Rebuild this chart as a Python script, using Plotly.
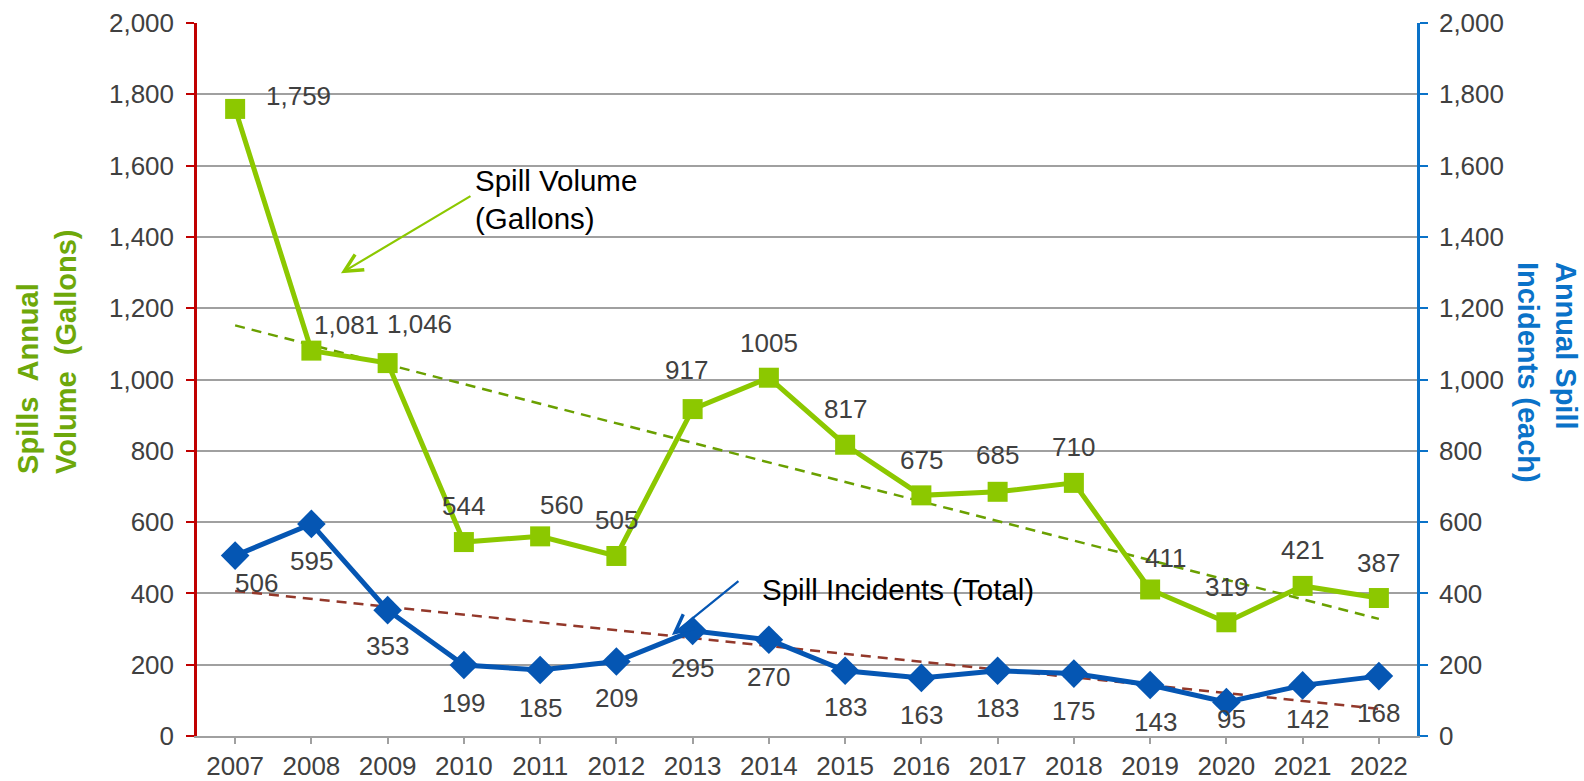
import numpy as np
import plotly.graph_objects as go

years = ["2007", "2008", "2009", "2010", "2011", "2012", "2013", "2014",
         "2015", "2016", "2017", "2018", "2019", "2020", "2021", "2022"]
spill_volume = [1759, 1081, 1046, 544, 560, 505, 917, 1005,
                817, 675, 685, 710, 411, 319, 421, 387]
spill_incidents = [506, 595, 353, 199, 185, 209, 295, 270,
                   183, 163, 183, 175, 143, 95, 142, 168]
y_ticks = [0, 200, 400, 600, 800, 1000, 1200, 1400, 1600, 1800, 2000]

# label texts (Excel showed 2014 without thousands separator)
volume_labels = [f"{v:,}" for v in spill_volume]
volume_labels[7] = str(spill_volume[7])
incident_labels = [str(v) for v in spill_incidents]

# label pixel offsets (style only)
vol_off = [(63, 13), (35, 26), (32, 39), (0, 36), (21, 31), (0, 36), (-6, 39), (0, 35),
           (0, 36), (0, 35), (0, 37), (0, 36), (15, 31), (0, 35), (0, 36), (0, 35)]
inc_off = [(21, -27), (0, -37), (0, -36), (0, -38), (0, -38), (0, -37), (0, -37), (0, -37),
           (0, -36), (0, -37), (0, -37), (0, -37), (5, -37), (5, -17), (5, -34), (0, -37)]

FONT = "Liberation Sans, Arial, sans-serif"
GREEN = "#8CC800"
GREEN_DARK = "#6EA80A"
BLUE = "#0556B3"
AXIS_BLUE = "#0A72C8"
RED = "#C00000"
TXT = "#404040"
FS = 26

idx = np.arange(len(years))
vfit = np.polyval(np.polyfit(idx, spill_volume, 1), idx)
ifit = np.polyval(np.polyfit(idx, spill_incidents, 1), idx)

fig = go.Figure()

fig.add_trace(go.Scatter(x=years, y=vfit, mode="lines", yaxis="y",
                         line=dict(color="#6AA000", width=2.5, dash="10px,7px"),
                         hoverinfo="skip", showlegend=False))
fig.add_trace(go.Scatter(x=years, y=ifit, mode="lines", yaxis="y2",
                         line=dict(color="#93382A", width=2.5, dash="10px,7px"),
                         hoverinfo="skip", showlegend=False))
fig.add_trace(go.Scatter(x=years, y=spill_volume, mode="lines+markers", yaxis="y",
                         line=dict(color=GREEN, width=5),
                         marker=dict(symbol="square", size=20, color=GREEN),
                         showlegend=False))
fig.add_trace(go.Scatter(x=years, y=spill_incidents, mode="lines+markers", yaxis="y2",
                         line=dict(color=BLUE, width=5),
                         marker=dict(symbol="diamond", size=22, color=BLUE),
                         showlegend=False))

annotations = []
for i, (y, t) in enumerate(zip(spill_volume, volume_labels)):
    annotations.append(dict(x=i, y=y, xref="x", yref="y", text=t, showarrow=False,
                            xshift=vol_off[i][0], yshift=vol_off[i][1],
                            font=dict(family=FONT, size=FS, color=TXT)))
for i, (y, t) in enumerate(zip(spill_incidents, incident_labels)):
    annotations.append(dict(x=i, y=y, xref="x", yref="y2", text=t, showarrow=False,
                            xshift=inc_off[i][0], yshift=inc_off[i][1],
                            font=dict(family=FONT, size=FS, color=TXT)))

# callout texts
annotations.append(dict(x=0.2262, y=0.7518, xref="paper", yref="paper", xanchor="left",
                        yanchor="middle", align="left", showarrow=False,
                        text="Spill Volume<br>(Gallons)",
                        font=dict(family=FONT, size=29.5, color="#000000")))
annotations.append(dict(x=0.4615, y=0.2048, xref="paper", yref="paper", xanchor="left",
                        yanchor="middle", align="left", showarrow=False,
                        text="Spill Incidents (Total)",
                        font=dict(family=FONT, size=29.5, color="#000000")))
# callout arrows
annotations.append(dict(x=0.118, y=0.649, xref="paper", yref="paper", text="",
                        showarrow=True, ax=131, ay=-78, arrowhead=5, arrowsize=1.6,
                        arrowwidth=2.2, arrowcolor=GREEN))
annotations.append(dict(x=0.3893, y=0.1417, xref="paper", yref="paper", text="",
                        showarrow=True, ax=68, ay=-55, arrowhead=5, arrowsize=1.6,
                        arrowwidth=2.2, arrowcolor=BLUE))

# axis titles
annotations.append(dict(x=-0.123, y=0.5386, xref="paper", yref="paper", textangle=-90,
                        xanchor="center", yanchor="middle",
                        showarrow=False, align="left",
                        text="Spills  Annual<br>Volume  (Gallons)",
                        font=dict(family=FONT, size=29, color=GREEN_DARK, weight="bold")))
annotations.append(dict(x=1.1066, y=0.5105, xref="paper", yref="paper", textangle=90,
                        xanchor="center", yanchor="middle",
                        showarrow=False, align="left",
                        text="Annual Spill<br>Incidents (each)",
                        font=dict(family=FONT, size=29, color=AXIS_BLUE, weight="bold")))

fig.update_layout(
    width=1584, height=781,
    margin=dict(l=197, r=167, t=23, b=45, autoexpand=False),
    paper_bgcolor="white", plot_bgcolor="white",
    showlegend=False,
    font=dict(family=FONT, size=FS, color=TXT),
    annotations=annotations,
    hovermode=False,
    xaxis=dict(type="category", range=[-0.5, 15.5], showgrid=False, automargin=False,
               showline=True, linecolor="#A0A0A0", linewidth=2,
               ticks="outside", ticklen=6, tickcolor="#A0A0A0", tickwidth=2,
               ticklabelstandoff=0,
               tickfont=dict(family=FONT, size=FS, color=TXT), zeroline=False),
    yaxis=dict(range=[0, 2000], tickvals=y_ticks, tickformat=",d", automargin=False,
               showgrid=True, gridcolor="#A0A0A0", gridwidth=2,
               showline=True, linecolor=RED, linewidth=2.5,
               ticks="outside", ticklen=8, tickcolor=RED, tickwidth=2,
               ticklabelstandoff=7,
               tickfont=dict(family=FONT, size=FS, color=TXT), zeroline=False),
    yaxis2=dict(range=[0, 2000], tickvals=y_ticks, tickformat=",d", overlaying="y",
                side="right", showgrid=False, automargin=False,
                showline=True, linecolor=AXIS_BLUE, linewidth=2.5,
                ticks="outside", ticklen=8, tickcolor=AXIS_BLUE, tickwidth=2,
                ticklabelstandoff=6,
                tickfont=dict(family=FONT, size=FS, color=TXT), zeroline=False),
)

fig.write_html("out.html", config={"displayModeBar": False},
               post_script="document.body.style.margin='0px';")
